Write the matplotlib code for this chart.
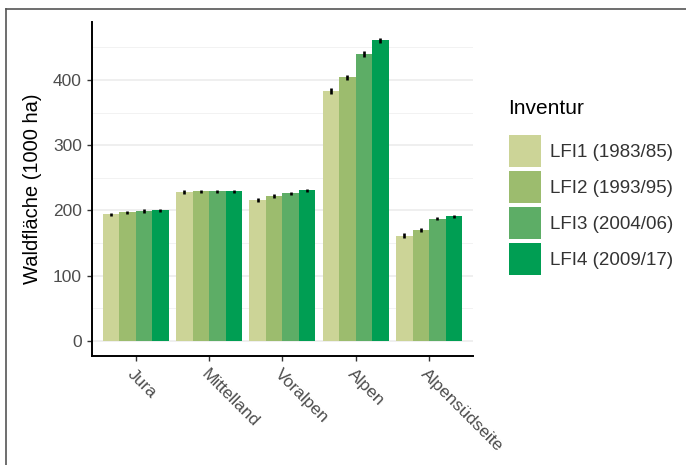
import matplotlib
matplotlib.use("Agg")
import matplotlib.pyplot as plt
from matplotlib.patches import Patch
from matplotlib.lines import Line2D
import numpy as np

plt.rcParams['font.family'] = ['Liberation Sans', 'DejaVu Sans']

# Daten (Waldfläche in 1000 ha)
regionen = ["Jura", "Mittelland", "Voralpen", "Alpen", "Alpensüdseite"]
inventuren = ["LFI1 (1983/85)", "LFI2 (1993/95)", "LFI3 (2004/06)", "LFI4 (2009/17)"]
lfi1 = [194, 228, 216, 383, 161]
lfi2 = [197, 229, 222, 404, 170]
lfi3 = [199, 229, 226, 440, 187]
lfi4 = [200, 229, 231, 461, 191]
fehler1 = [2.5, 2.5, 2.5, 4, 3.5]
fehler2 = [2.5, 2.5, 2.5, 4, 2.5]
fehler3 = [2.5, 2.5, 2.5, 4, 2.5]
fehler4 = [2.5, 2.5, 2.5, 4, 2.5]

werte = [lfi1, lfi2, lfi3, lfi4]
fehler = [fehler1, fehler2, fehler3, fehler4]
farben = ["#CCD497", "#9CBC6E", "#5DAD66", "#009E53"]

fig = plt.figure(figsize=(6.86, 4.65), dpi=100)
ax = fig.add_axes([91.7 / 686, 1 - 355.7 / 465, (473 - 91.7) / 686, (355.7 - 22) / 465])

x = np.arange(len(regionen))
breite = 0.225
for i in range(4):
    pos = x + (i - 1.5) * breite
    ax.bar(pos, werte[i], width=breite, color=farben[i], zorder=2, label=inventuren[i])
    ax.errorbar(pos, werte[i], yerr=fehler[i], fmt='none', ecolor='black',
                elinewidth=1.9, capsize=0, zorder=3)

ax.set_xlim(-0.6, 4.6)
ax.set_ylim(-23, 489)
ax.set_yticks([0, 100, 200, 300, 400])
ax.set_yticks([50, 150, 250, 350, 450], minor=True)
ax.grid(axis='y', which='major', color='#EBEBEB', linewidth=1.1, zorder=0)
ax.grid(axis='y', which='minor', color='#F2F2F2', linewidth=0.7, zorder=0)
ax.set_axisbelow(True)

for s in ['top', 'right']:
    ax.spines[s].set_visible(False)
for s in ['left', 'bottom']:
    ax.spines[s].set_linewidth(1.4)
    ax.spines[s].set_color('black')

ax.set_xticks(x)
ax.set_xticklabels(regionen, rotation=-45, ha='left', va='top', rotation_mode='anchor')
ax.tick_params(axis='both', which='major', length=3.5, width=1, color='#333333',
               labelsize=12.5, labelcolor='#4D4D4D')
ax.tick_params(axis='y', which='minor', length=0)
ax.tick_params(axis='x', pad=4)

ax.set_ylabel("Waldfläche (1000 ha)", fontsize=14.5, color='black')
ax.yaxis.set_label_coords(-0.13, 0.5)

# Legende: Titel separat, Einträge darunter
fig.text(508 / 686, 1 - 108 / 465, "Inventur", fontsize=15, color='black',
         ha='left', va='center')
handles = [Patch(facecolor=c, edgecolor='none') for c in farben]
leg = fig.legend(handles, inventuren, loc='upper left',
                 bbox_to_anchor=(509 / 686, 1 - 135 / 465), frameon=False,
                 fontsize=13.5, handlelength=1.7, handleheight=2.25,
                 labelspacing=0.22, handletextpad=0.5,
                 borderpad=0, borderaxespad=0)
for t in leg.get_texts():
    t.set_color('#333333')

# Rahmen links und oben
fig.add_artist(Line2D([6 / 686, 6 / 686], [0, 1 - 9.5 / 465], transform=fig.transFigure,
                      color='#555555', linewidth=1.2))
fig.add_artist(Line2D([6 / 686, 1], [1 - 9.5 / 465, 1 - 9.5 / 465], transform=fig.transFigure,
                      color='#555555', linewidth=1.2))

fig.savefig("out.png", dpi=100)
